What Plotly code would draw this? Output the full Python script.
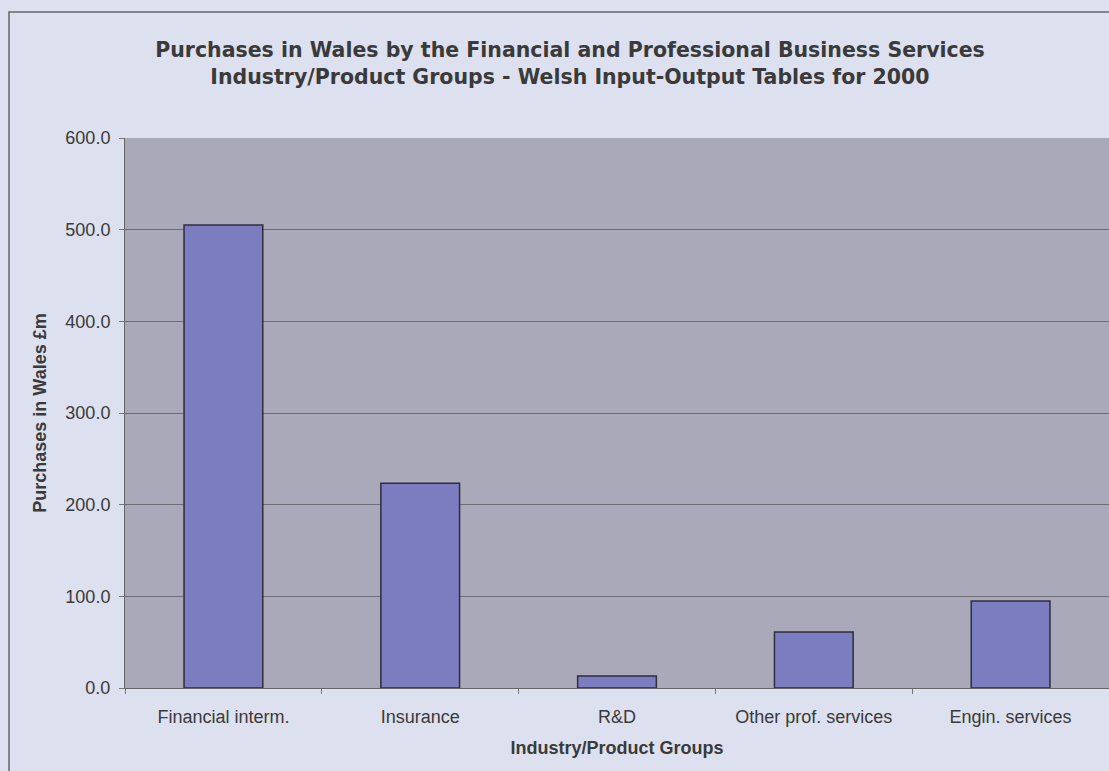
import plotly.graph_objects as go

categories = ["Financial interm.", "Insurance", "R&D", "Other prof. services", "Engin. services"]
values = [505.0, 223.5, 13.0, 61.0, 95.0]
y_ticks = [0, 100, 200, 300, 400, 500, 600]
y_tick_labels = ["0.0", "100.0", "200.0", "300.0", "400.0", "500.0", "600.0"]

fig = go.Figure()
fig.add_trace(go.Bar(
    x=categories, y=values, width=0.4,
    marker=dict(color="#7c7cc0", line=dict(color="#2e2e3e", width=1.5)),
))

fig.update_layout(
    width=1109, height=771,
    margin=dict(l=125, r=0, t=138, b=83),
    paper_bgcolor="#dde0ee",
    plot_bgcolor="#a9a9b9",
    showlegend=False,
    font=dict(family="Arial, Liberation Sans, sans-serif", color="#3a3a3a", size=18),
    title=dict(
        text="<b>Purchases in Wales by the Financial and Professional Business Services<br>Industry/Product Groups - Welsh Input-Output Tables for 2000</b>",
        x=570 / 1109, xref="container", xanchor="center", y=1 - 57 / 771, yanchor="middle",
        font=dict(size=20.5, color="#3a3a3a", family="DejaVu Sans, sans-serif"),
    ),
)
fig.update_xaxes(
    type="category", tickson="boundaries", ticks="outside", ticklen=5, tickcolor="#777",
    showline=True, linecolor="#666", linewidth=1, showgrid=False,
    tickfont=dict(size=18, color="#3a3a3a"), ticklabelstandoff=12,
    title=dict(text="<b>Industry/Product Groups</b>", font=dict(size=18, color="#3a3a3a"), standoff=15),
)
fig.update_yaxes(
    range=[0, 600], tickvals=y_ticks, ticktext=y_tick_labels,
    ticks="outside", ticklen=5, tickcolor="#777",
    showline=True, linecolor="#666", linewidth=1,
    showgrid=True, gridcolor="#6e6e78", gridwidth=1, zeroline=False,
    tickfont=dict(size=18, color="#3a3a3a"), ticklabelstandoff=5,
    title=dict(text="<b>Purchases in Wales £m</b>", font=dict(size=18, color="#3a3a3a"), standoff=14),
)
fig.add_shape(type="rect", xref="paper", yref="paper",
              x0=-116/984, x1=1.2, y0=-0.3, y1=1 + 126/550,
              line=dict(color="#666", width=1.5), fillcolor="rgba(0,0,0,0)", layer="below")
fig.write_html("out.html")
